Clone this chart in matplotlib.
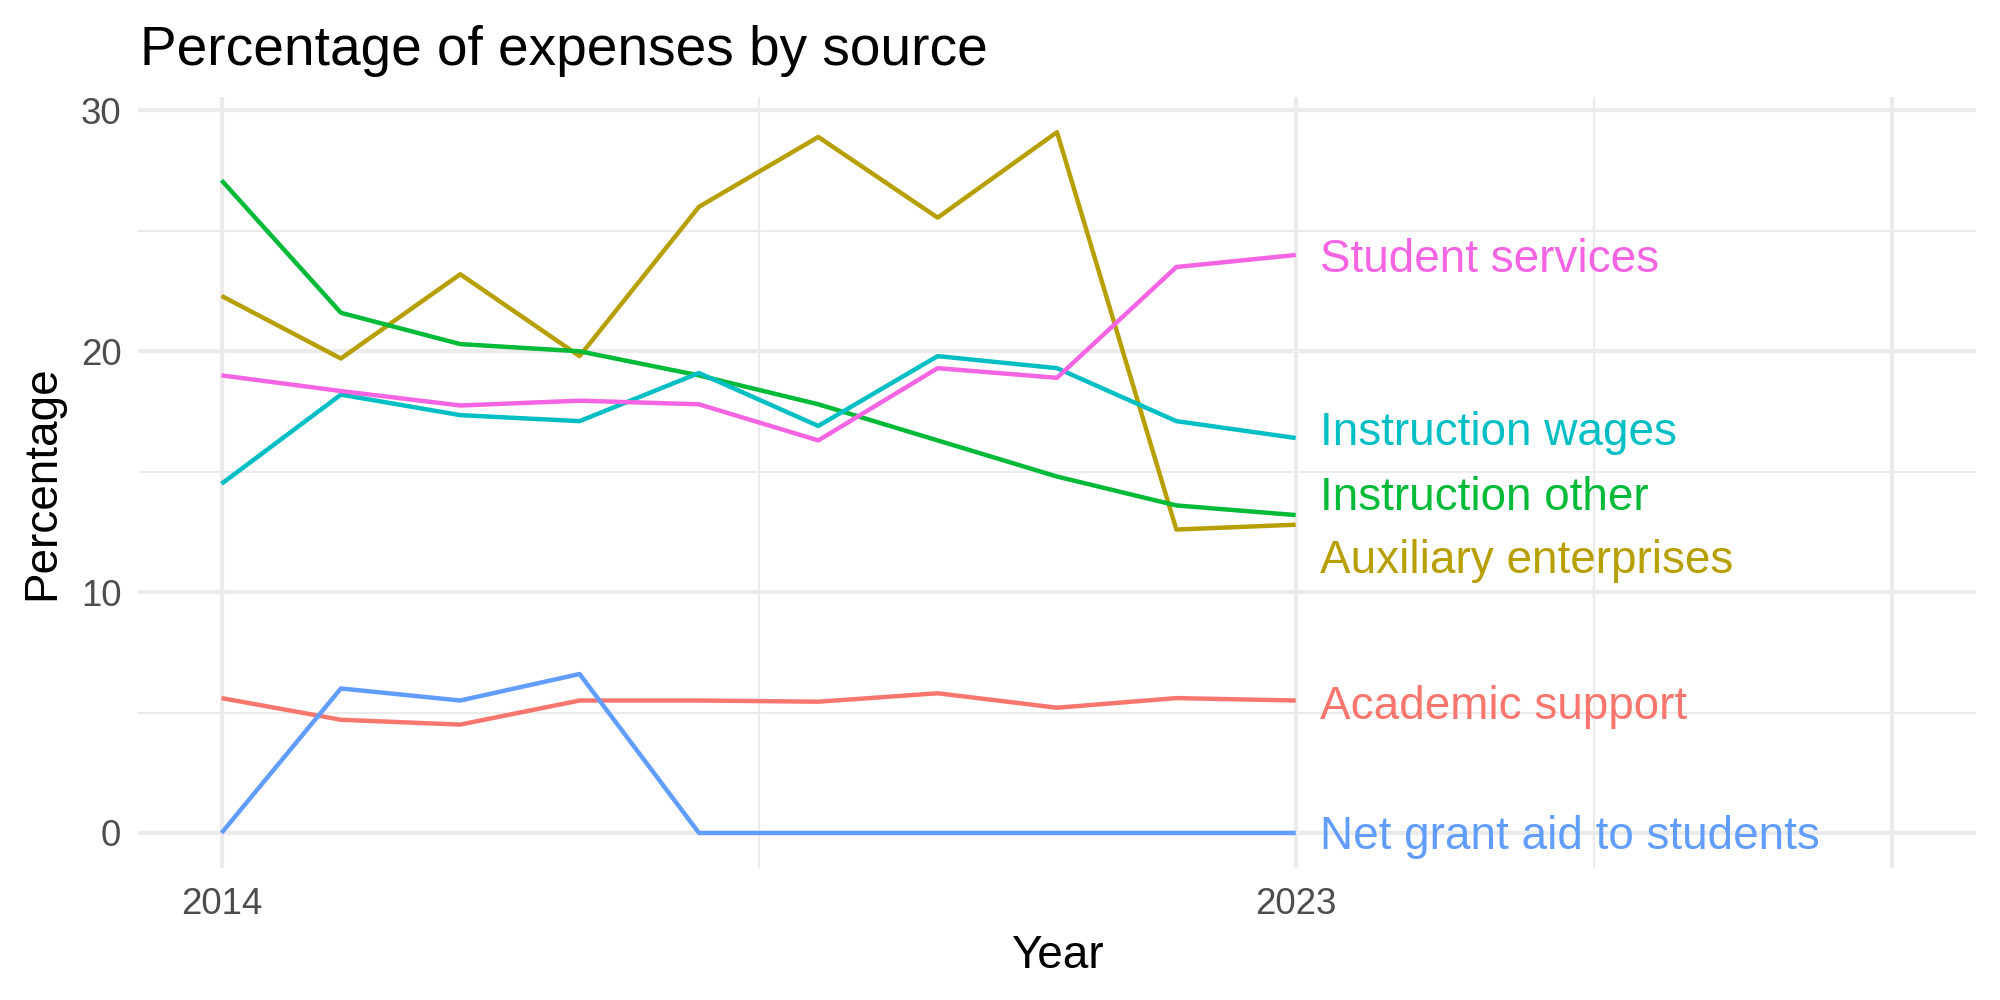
import numpy as np
import matplotlib.pyplot as plt

# data
years = [2014, 2015, 2016, 2017, 2018, 2019, 2020, 2021, 2022, 2023]
academic_support = [5.6, 4.7, 4.5, 5.5, 5.5, 5.45, 5.8, 5.2, 5.6, 5.5]
auxiliary = [22.3, 19.7, 23.2, 19.8, 26.0, 28.9, 25.55, 29.1, 12.6, 12.8]
instr_other = [27.1, 21.6, 20.3, 20.0, 19.0, 17.8, 16.3, 14.8, 13.6, 13.2]
instr_wages = [14.5, 18.2, 17.35, 17.1, 19.1, 16.9, 19.8, 19.3, 17.1, 16.4]
net_grant = [0.0, 6.0, 5.5, 6.6, 0.0, 0.0, 0.0, 0.0, 0.0, 0.0]
student_services = [19.0, 18.35, 17.75, 17.95, 17.8, 16.3, 19.3, 18.9, 23.5, 24.0]

names = ["Academic support", "Auxiliary enterprises", "Instruction other",
         "Instruction wages", "Net grant aid to students", "Student services"]
series = [academic_support, auxiliary, instr_other, instr_wages, net_grant, student_services]
colors = ["#F8766D", "#B79F00", "#00BA38", "#00BFC4", "#619CFF", "#F564E3"]
# label heights after repelling
label_y = [5.25, 11.3, 13.9, 16.6, -0.15, 23.8]

plt.rcParams['font.family'] = ['Liberation Sans', 'DejaVu Sans']

fig = plt.figure(figsize=(10, 5), dpi=200)
ax = fig.add_axes([0.069, 0.132, 0.919, 0.771])

for vals, c in zip(series, colors):
    ax.plot(years, vals, color=c, linewidth=1.6, solid_capstyle='butt', zorder=3)

for name, ly, c in zip(names, label_y, colors):
    ax.text(2023.2, ly, name, color=c, fontsize=16.5, ha='left', va='center', zorder=4)

ax.set_xlim(2013.3, 2028.7)
ax.set_ylim(-1.455, 30.56)

ax.set_xticks([2014, 2023, 2028])
ax.set_xticklabels(["2014", "2023", ""])
ax.set_xticks([2018.5, 2025.5], minor=True)
ax.set_yticks([0, 10, 20, 30])
ax.set_yticks([5, 15, 25], minor=True)

ax.grid(True, which='major', color='#EBEBEB', linewidth=1.5)
ax.grid(True, which='minor', color='#EBEBEB', linewidth=0.75)
ax.set_axisbelow(True)
for s in ax.spines.values():
    s.set_visible(False)
ax.tick_params(which='both', length=0, labelsize=13.2, labelcolor='#4D4D4D')
ax.tick_params(axis='x', pad=7)
ax.tick_params(axis='y', pad=6)

ax.set_xlabel("Year", fontsize=16.5, labelpad=4)
ax.set_ylabel("Percentage", fontsize=16.5, labelpad=6)
fig.text(0.07, 0.935, "Percentage of expenses by source", fontsize=19.8, ha='left', va='baseline')

fig.savefig("out.png", dpi=200)
